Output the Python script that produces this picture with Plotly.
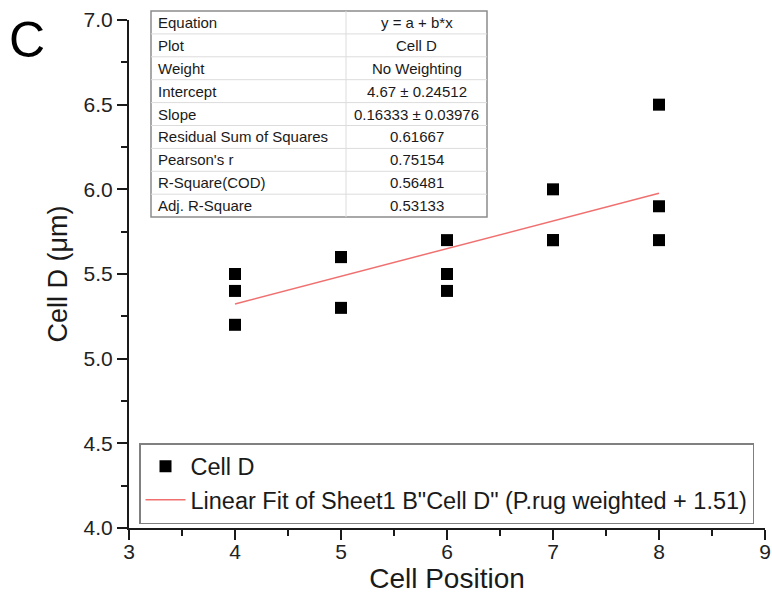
import plotly.graph_objects as go

# ---- data ----
cell_position = [4, 4, 4, 5, 5, 5, 6, 6, 6, 7, 7, 7, 8, 8, 8]
cell_d = [5.5, 5.4, 5.2, 5.6, 5.6, 5.3, 5.7, 5.5, 5.4, 6.0, 5.7, 5.7, 6.5, 5.9, 5.7]
fit_intercept = 4.67
fit_slope = 0.16333
fit_x = [4, 8]
fit_y = [fit_intercept + fit_slope * x for x in fit_x]

table_labels = ["Equation", "Plot", "Weight", "Intercept", "Slope",
                "Residual Sum of Squares", "Pearson's r", "R-Square(COD)", "Adj. R-Square"]
table_values = ["y = a + b*x", "Cell D", "No Weighting", "4.67 ± 0.24512",
                "0.16333 ± 0.03976", "0.61667", "0.75154", "0.56481", "0.53133"]

x_ticks = [3, 4, 5, 6, 7, 8, 9]
y_ticks = [4.0, 4.5, 5.0, 5.5, 6.0, 6.5, 7.0]

FONT = "Liberation Sans, Arial, sans-serif"
W, H = 772, 594
ML, MT = 129, 20
MR = W - 765
MB = H - 528
PW, PH = W - ML - MR, H - MT - MB


def px(x):
    return (x - ML) / PW


def py(y):
    return (H - MB - y) / PH


fig = go.Figure()
fig.add_trace(go.Scatter(
    x=cell_position, y=cell_d, mode="markers", name="Cell D",
    marker=dict(symbol="square", size=12, color="black"),
    cliponaxis=False,
))
fig.add_trace(go.Scatter(
    x=fit_x, y=fit_y, mode="lines",
    name='Linear Fit of Sheet1 B"Cell D" (P.rug weighted + 1.51)',
    line=dict(color="#f07070", width=1.5),
))

# ---- stats table drawn as shapes/annotations ----
tl, tr, tdiv = 151, 487, 346
ttop, rowh = 11, 22.9
nrows = len(table_labels)
tbot = ttop + rowh * nrows
shapes = []
annotations = []
shapes.append(dict(type="rect", xref="paper", yref="paper",
                   x0=px(tl), x1=px(tr), y0=py(tbot), y1=py(ttop),
                   fillcolor="white", line=dict(color="#8c8c8c", width=1.5), layer="above"))
for i in range(1, nrows):
    yy = py(ttop + rowh * i)
    shapes.append(dict(type="line", xref="paper", yref="paper",
                       x0=px(tl), x1=px(tr), y0=yy, y1=yy,
                       line=dict(color="#dcdcdc", width=1), layer="above"))
shapes.append(dict(type="line", xref="paper", yref="paper",
                   x0=px(tdiv), x1=px(tdiv), y0=py(tbot), y1=py(ttop),
                   line=dict(color="#dcdcdc", width=1), layer="above"))
for i, (lab, val) in enumerate(zip(table_labels, table_values)):
    yc = py(ttop + rowh * (i + 0.5))
    annotations.append(dict(xref="paper", yref="paper", x=px(tl + 5), y=yc,
                            text=lab, showarrow=False, xanchor="left", yanchor="middle",
                            font=dict(family=FONT, size=15, color="#1a1a1a")))
    annotations.append(dict(xref="paper", yref="paper", x=px((tdiv + tr) / 2), y=yc,
                            text=val, showarrow=False, xanchor="center", yanchor="middle",
                            font=dict(family=FONT, size=15, color="#1a1a1a")))

annotations.append(dict(xref="paper", yref="paper", x=px(7), y=py(40),
                        text="C", showarrow=False, xanchor="left", yanchor="middle",
                        font=dict(family=FONT, size=50, color="black")))

axis_common = dict(
    showline=True, linecolor="#1a1a1a", linewidth=2,
    ticks="outside", ticklen=10, tickwidth=2, tickcolor="#1a1a1a",
    showgrid=False, zeroline=False, automargin=False,
    ticklabeloverflow="allow",
    tickfont=dict(family=FONT, size=21, color="#222"),
    minor=dict(ticks="outside", ticklen=6, tickwidth=2, tickcolor="#1a1a1a", showgrid=False),
)

fig.update_layout(
    width=W, height=H,
    margin=dict(l=ML, r=MR, t=MT, b=MB),
    paper_bgcolor="white", plot_bgcolor="white",
    xaxis=dict(range=[3, 9], tickvals=x_ticks, ticktext=[str(v) for v in x_ticks],
               ticklabelstandoff=-6,
               title=dict(text="Cell Position", font=dict(family=FONT, size=28, color="#1a1a1a"), standoff=0),
               **axis_common),
    yaxis=dict(range=[4.0, 7.0], tickvals=y_ticks, ticktext=[f"{v:.1f}" for v in y_ticks],
               title=dict(text="Cell D (μm)", font=dict(family=FONT, size=27, color="#1a1a1a"), standoff=8),
               **axis_common),
    showlegend=True,
    legend=dict(x=px(139), y=py(443), xanchor="left", yanchor="top",
                bgcolor="white", bordercolor="#808080", borderwidth=1.5,
                font=dict(family=FONT, size=23.5, color="#1a1a1a"),
                itemwidth=40, tracegroupgap=0),
    shapes=shapes,
    annotations=annotations,
)
fig.update_xaxes(minor_dtick=0.5)
fig.update_yaxes(minor_dtick=0.25)

fig.write_html("out.html",
               config={"responsive": False, "displayModeBar": False},
               post_script="document.body.style.margin='0';")
